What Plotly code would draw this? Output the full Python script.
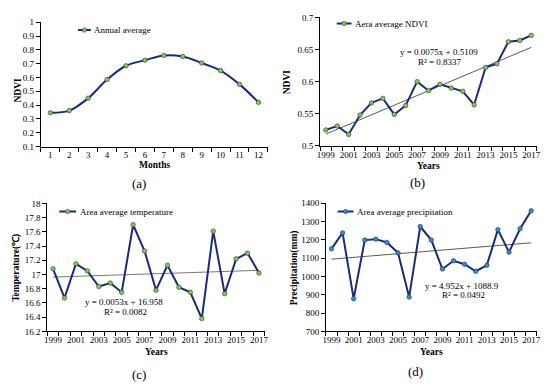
import plotly.graph_objects as go

# ---------------- data ----------------
months = list(range(1, 13))
month_labels = [str(m) for m in months]
ndvi_monthly = [0.345, 0.36, 0.45, 0.585, 0.685, 0.725, 0.76, 0.752, 0.705, 0.65, 0.55, 0.42]

years = list(range(1999, 2018))
year_labels = [str(y) for y in range(1999, 2018, 2)]
ndvi_yearly = [0.525, 0.531, 0.518, 0.548, 0.567, 0.574, 0.549, 0.563, 0.600, 0.586,
               0.596, 0.590, 0.585, 0.564, 0.622, 0.628, 0.662, 0.664, 0.672]
temperature = [17.08, 16.67, 17.15, 17.05, 16.83, 16.88, 16.75, 17.70, 17.33, 16.78,
               17.13, 16.82, 16.75, 16.38, 17.61, 16.73, 17.22, 17.30, 17.02]
precipitation = [1150, 1237, 878, 1198, 1203, 1185, 1128, 887, 1272, 1198,
                 1040, 1085, 1066, 1028, 1060, 1255, 1132, 1260, 1358]

# fitted trend lines (slope, intercept, R2) as printed on the chart
ndvi_fit = (0.0075, 0.5109, "0.8337")
temp_fit = (0.0053, 16.958, "0.0082")
prec_fit = (4.952, 1088.9, "0.0492")

series_names = ["Annual average", "Aera average NDVI",
                "Area average temperature", "Area average precipitation"]

ndvi_m_ticks = [0.1, 0.2, 0.3, 0.4, 0.5, 0.6, 0.7, 0.8, 0.9, 1.0]
ndvi_m_ticktext = ["0.1", "0.2", "0.3", "0.4", "0.5", "0.6", "0.7", "0.8", "0.9", "1"]
ndvi_y_ticks = [0.5, 0.55, 0.6, 0.65, 0.7]
ndvi_y_ticktext = ["0.5", "0.55", "0.6", "0.65", "0.7"]
temp_ticks = [16.2, 16.4, 16.6, 16.8, 17.0, 17.2, 17.4, 17.6, 17.8, 18.0]
temp_ticktext = ["16.2", "16.4", "16.6", "16.8", "17", "17.2", "17.4", "17.6", "17.8", "18"]
prec_ticks = [700, 800, 900, 1000, 1100, 1200, 1300, 1400]

# ---------------- styling ----------------
W, H = 550, 387
FONT = "Liberation Serif"
LINE = "#1b2a7c"
GREEN = "#8cc63f"
BLUE = "#2f8fc9"
EDGE = "#1b3a60"


def px(x):
    return x / W


def py(y):
    return 1 - y / H


fig = go.Figure()

fit_x = list(range(1, len(years) + 1))


def add_series(x, y, name, xa, ya, mcolor, shape="linear"):
    fig.add_trace(go.Scatter(
        x=x, y=y, mode="lines+markers", name=name, xaxis=xa, yaxis=ya, showlegend=False,
        line=dict(color=LINE, width=2, shape=shape),
        marker=dict(size=4.5, color=mcolor, line=dict(color=EDGE, width=0.6)),
    ))


def add_trend(fit, xa, ya, color):
    a, b, _ = fit
    fig.add_trace(go.Scatter(
        x=years, y=[a * i + b for i in fit_x], mode="lines", showlegend=False,
        xaxis=xa, yaxis=ya, line=dict(color=color, width=1), hoverinfo="skip",
    ))


add_series(months, ndvi_monthly, series_names[0], "x", "y", GREEN, "spline")
add_trend(ndvi_fit, "x2", "y2", "#5a5a5a")
add_series(years, ndvi_yearly, series_names[1], "x2", "y2", GREEN)
add_trend(temp_fit, "x3", "y3", "#7a7a7a")
add_series(years, temperature, series_names[2], "x3", "y3", GREEN)
add_trend(prec_fit, "x4", "y4", "#5a5a5a")
add_series(years, precipitation, series_names[3], "x4", "y4", BLUE)

tickfont = dict(family=FONT, size=9, color="black")


def xaxis(domain, anchor, rng, tickvals, ticktext, minor0):
    return dict(domain=domain, anchor=anchor, range=rng, showgrid=False, zeroline=False,
                showline=True, linecolor="black", linewidth=1,
                tickmode="array", tickvals=tickvals, ticktext=ticktext, ticks="",
                tickfont=tickfont,
                minor=dict(tick0=minor0, dtick=1, ticks="outside", ticklen=4,
                           tickcolor="black", tickwidth=1, showgrid=False))


def yaxis(domain, anchor, rng, tickvals, ticktext):
    return dict(domain=domain, anchor=anchor, range=rng, showgrid=False, zeroline=False,
                showline=True, linecolor="black", linewidth=1,
                tickmode="array", tickvals=tickvals, ticktext=ticktext,
                ticks="outside", ticklen=4, tickcolor="black", tickwidth=1,
                tickfont=tickfont)


yr_rng = [years[0] - 0.5, years[-1] + 0.5]
odd_years = list(range(1999, 2018, 2))

fig.update_layout(
    width=W, height=H, margin=dict(l=0, r=0, t=0, b=0),
    paper_bgcolor="white", plot_bgcolor="white",
    font=dict(family=FONT, size=9, color="black"),
    xaxis=xaxis([px(38.4), px(268.3)], "y", [0.5, 12.5], months, month_labels, 0.5),
    yaxis=yaxis([py(145.3), py(17.7)], "x", [0.1, 1.0], ndvi_m_ticks, ndvi_m_ticktext),
    xaxis2=xaxis([px(321.2), px(540.8)], "y2", yr_rng, odd_years, year_labels, 1998.5),
    yaxis2=yaxis([py(144.7), py(12.7)], "x2", [0.5, 0.7], ndvi_y_ticks, ndvi_y_ticktext),
    xaxis3=xaxis([px(44.9), px(265.1)], "y3", yr_rng, odd_years, year_labels, 1998.5),
    yaxis3=yaxis([py(335), py(203.7)], "x3", [16.2, 18.0], temp_ticks, temp_ticktext),
    xaxis4=xaxis([px(327.1), px(540.6)], "y4", yr_rng, odd_years, year_labels, 1998.5),
    yaxis4=yaxis([py(335), py(203.3)], "x4", [700, 1400], prec_ticks, [str(v) for v in prec_ticks]),
)

ann = []
shapes = []


def text(x, y, s, size=9, bold=False, angle=0, anchor="center"):
    if bold:
        s = "<b>" + s + "</b>"
    ann.append(dict(x=px(x), y=py(y), xref="paper", yref="paper", text=s, showarrow=False,
                    xanchor=anchor, yanchor="middle", textangle=angle,
                    font=dict(family=FONT, size=size, color="black")))


# legend keys (line with a marker, then the series name)
legend_keys = [(76, 89, 25.7, GREEN), (338, 353, 19, GREEN), (57, 74, 212, GREEN), (339, 355, 212, BLUE)]
for name, (x0, x1, yy, mc) in zip(series_names, legend_keys):
    shapes.append(dict(type="line", xref="paper", yref="paper", x0=px(x0), x1=px(x1),
                       y0=py(yy), y1=py(yy), line=dict(color=LINE, width=2)))
    xm = (x0 + x1) / 2
    shapes.append(dict(type="circle", xref="paper", yref="paper", x0=px(xm - 2.2), x1=px(xm + 2.2),
                       y0=py(yy + 2.2), y1=py(yy - 2.2), fillcolor=mc, line=dict(color=EDGE, width=0.6)))
    text(x1 + 1.5, yy, name, 9, anchor="left")

# axis titles
text(15, 87, "NDVI", 9.5, True, -90)
text(153, 164.5, "Months", 9.5, True)
text(288, 79, "NDVI", 9.5, True, -90)
text(431, 165, "Years", 9.5, True)
text(13, 270, "Temperature(℃)", 9.5, True, -90)
text(155, 356.5, "Years", 9.5, True)
text(295, 270, "Precipitation(mm)", 9.5, True, -90)
text(434, 356.5, "Years", 9.5, True)

# trend equations
for (a, b, r2), (cx, cy) in [(ndvi_fit, (442, 48)), (temp_fit, (123, 305)), (prec_fit, (465, 288))]:
    text(cx, cy, f"y = {a}x + {b}")
    text(cx + 1, cy + 10, f"R² = {r2}")

# panel captions
text(138, 183, "(a)", 13)
text(420, 182, "(b)", 13)
text(138, 379, "(c)", 13)
text(418, 376, "(d)", 13)

fig.update_layout(annotations=ann, shapes=shapes)

fig.write_html("out.html", config={"displayModeBar": False},
               post_script="document.body.style.margin='0';")
